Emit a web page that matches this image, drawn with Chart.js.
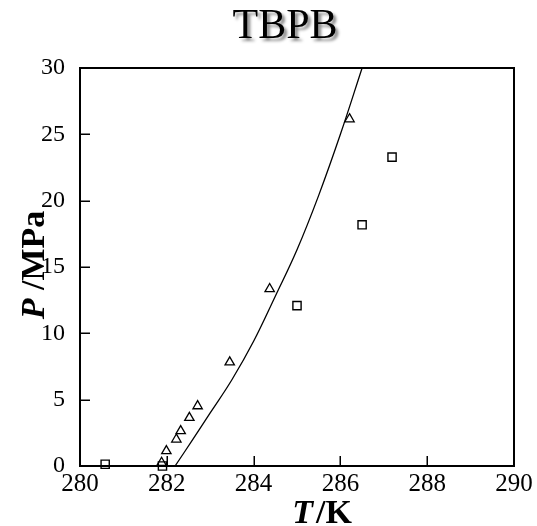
<!DOCTYPE html>
<html>
<head>
<meta charset="utf-8">
<script src="https://cdn.jsdelivr.net/npm/chart.js@4.4.1/dist/chart.umd.min.js"></script>
<style>
  html, body { margin: 0; padding: 0; background: #ffffff; }
  #wrap { width: 537px; height: 526px; position: relative; }
</style>
</head>
<body>
<div id="wrap"><canvas id="c" width="537" height="526"></canvas></div>
<script>
// ---- data ----
const chartTitle = "TBPB";
const xTickValues = [280, 282, 284, 286, 288, 290];
const yTickValues = [0, 5, 10, 15, 20, 25, 30];

// triangles (experimental, one set)
const triT = [281.88, 281.99, 282.22, 282.32, 282.52, 282.71, 283.45, 284.37, 286.21];
const triP = [0.25, 1.13, 2.01, 2.64, 3.64, 4.52, 7.82, 13.35, 26.15];

// squares (experimental, another set)
const sqT = [280.58, 281.90, 285.00, 286.50, 287.19];
const sqP = [0.13, 0.00, 12.09, 18.18, 23.28];

// predicted equilibrium curve
const curveT = [282.19, 282.6, 283.0, 283.5, 284.0, 284.5, 285.0, 285.5, 286.0, 286.5];
const curveP = [0.0, 2.0, 4.0, 6.5, 9.4, 12.8, 16.3, 20.4, 25.0, 30.0];

const zip = (xs, ys) => xs.map((x, i) => ({ x: x, y: ys[i] }));

const SERIF = "'Liberation Serif', 'Times New Roman', 'DejaVu Serif', serif";

const framePlugin = {
  id: 'framePlugin',
  afterDraw(chart) {
    const ctx = chart.ctx;
    const a = chart.chartArea;
    const xs = chart.scales.x, ys = chart.scales.y;
    ctx.save();
    ctx.strokeStyle = '#000';
    // inner ticks
    ctx.lineWidth = 1.5;
    ctx.beginPath();
    xTickValues.forEach(v => {
      if (v === xs.min || v === xs.max) return;
      const px = Math.round(xs.getPixelForValue(v)) + 0.25;
      ctx.moveTo(px, a.bottom);
      ctx.lineTo(px, a.bottom - 10);
    });
    yTickValues.forEach(v => {
      if (v === ys.min || v === ys.max) return;
      const py = Math.round(ys.getPixelForValue(v)) + 0.25;
      ctx.moveTo(a.left, py);
      ctx.lineTo(a.left + 10, py);
    });
    ctx.stroke();
    // frame
    ctx.lineWidth = 2;
    ctx.strokeRect(a.left, a.top, a.right - a.left, a.bottom - a.top);

    // title with shadow
    ctx.save();
    ctx.font = "42px " + SERIF;
    ctx.fillStyle = '#000';
    ctx.textAlign = 'center';
    ctx.textBaseline = 'alphabetic';
    ctx.shadowColor = 'rgba(0,0,0,0.45)';
    ctx.shadowOffsetX = 3;
    ctx.shadowOffsetY = 3;
    ctx.shadowBlur = 3;
    ctx.fillText(chartTitle, 285, 38);
    ctx.restore();

    // x axis title: italic T + "/K"
    const fI = "italic bold 34px " + SERIF;
    const fB = "bold 34px " + SERIF;
    ctx.fillStyle = '#000';
    ctx.textBaseline = 'alphabetic';
    ctx.textAlign = 'left';
    ctx.font = fI; const wT = ctx.measureText('T').width;
    ctx.font = fB; const wK = ctx.measureText('/K').width;
    const gap = 3;
    let x0 = 322 - (wT + gap + wK) / 2;
    ctx.font = fI; ctx.fillText('T', x0, 523);
    ctx.font = fB; ctx.fillText('/K', x0 + wT + gap, 523);

    // y axis title: italic P + " /MPa", rotated
    ctx.save();
    ctx.translate(44, 265);
    ctx.rotate(-Math.PI / 2);
    ctx.font = fI; const wP = ctx.measureText('P').width;
    ctx.font = fB; const wM = ctx.measureText(' /MPa').width;
    let s0 = -(wP + wM) / 2;
    ctx.font = fI; ctx.fillText('P', s0, 0);
    ctx.font = fB; ctx.fillText(' /MPa', s0 + wP, 0);
    ctx.restore();

    ctx.restore();
  }
};

new Chart(document.getElementById('c'), {
  type: 'scatter',
  data: {
    datasets: [
      {
        type: 'line',
        label: 'model',
        data: zip(curveT, curveP),
        borderColor: '#000',
        borderWidth: 1.3,
        pointRadius: 0,
        tension: 0.4,
        fill: false,
        order: 3
      },
      {
        label: 'triangles',
        data: zip(triT, triP),
        pointStyle: 'triangle',
        pointRadius: 5.4,
        pointBorderWidth: 1.3,
        pointBorderColor: '#000',
        pointBackgroundColor: 'rgba(255,255,255,0)',
        clip: false,
        order: 1
      },
      {
        label: 'squares',
        data: zip(sqT, sqP),
        pointStyle: 'rect',
        pointRadius: 5.8,
        pointBorderWidth: 1.4,
        pointBorderColor: '#000',
        pointBackgroundColor: 'rgba(255,255,255,0)',
        clip: false,
        order: 2
      }
    ]
  },
  options: {
    responsive: false,
    animation: false,
    devicePixelRatio: 1,
    layout: { padding: { top: 68, right: 23, left: 0, bottom: 0 } },
    plugins: {
      legend: { display: false },
      tooltip: { enabled: false },
      title: { display: false }
    },
    scales: {
      x: {
        type: 'linear',
        min: 280, max: 290,
        afterBuildTicks: s => { s.ticks = xTickValues.map(v => ({ value: v })); },
        afterFit: s => { s.height = 60; },
        grid: { display: false },
        border: { display: false },
        ticks: {
          color: '#000',
          padding: -5,
          maxRotation: 0,
          font: { family: SERIF, size: 25 }
        }
      },
      y: {
        type: 'linear',
        min: 0, max: 30,
        afterBuildTicks: s => { s.ticks = yTickValues.map(v => ({ value: v })); },
        afterFit: s => { s.width = 80; },
        grid: { display: false },
        border: { display: false },
        ticks: {
          color: '#000',
          padding: 7,
          font: { family: SERIF, size: 24 }
        }
      }
    }
  },
  plugins: [framePlugin]
});
</script>
</body>
</html>
